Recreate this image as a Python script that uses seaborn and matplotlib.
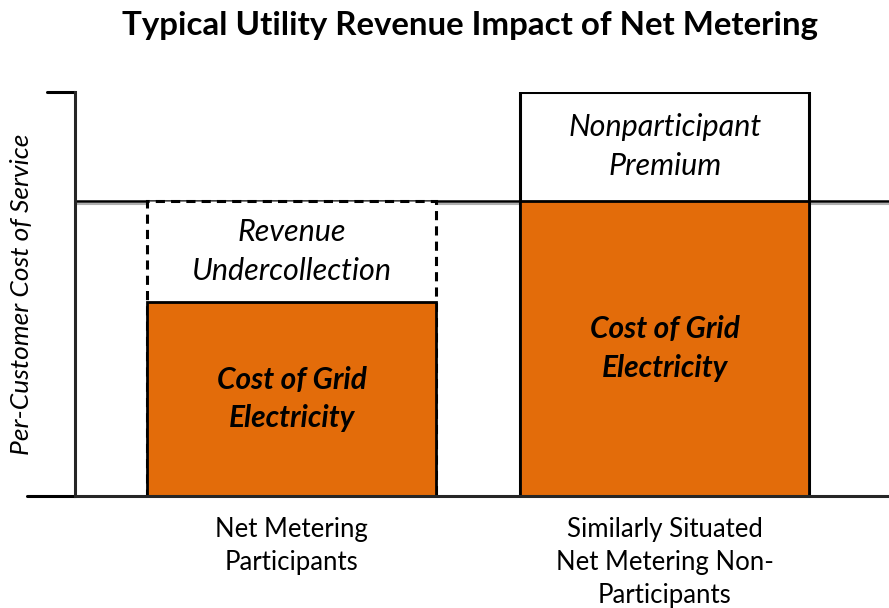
import seaborn as sns
import matplotlib.pyplot as plt
import pandas as pd

# Chart data (relative units, axis runs 0..100)
categories = ["Net Metering\nParticipants", "Similarly Situated\nNet Metering Non-\nParticipants"]
grid_cost = [48, 73]
total_cost = [73, 100]
service_cost = 73
grid_labels = ["Cost of Grid\nElectricity", "Cost of Grid\nElectricity"]
top_labels = ["Revenue\nUndercollection", "Nonparticipant\nPremium"]

orange = "#E36C0A"
sns.set_style("white")
plt.rcParams["font.family"] = ["Lato", "DejaVu Sans"]
plt.rcParams["text.color"] = "black"
plt.rcParams["axes.labelcolor"] = "black"
plt.rcParams["xtick.color"] = "black"

df = pd.DataFrame({"group": categories, "grid": grid_cost, "total": total_cost})

fig = plt.figure(figsize=(8.89, 6.08), dpi=100)
ax = fig.add_axes([75 / 889, 1 - 496 / 608, 1 - 75 / 889, (496 - 92) / 608])

# white upper boxes first, orange grid cost on top
sns.barplot(data=df, x="group", y="total", color="white", edgecolor="black",
            linewidth=2.2, width=0.774, saturation=1, ax=ax)
ax.patches[0].set_linestyle((0, (3, 2)))
sns.barplot(data=df, x="group", y="grid", color=orange, edgecolor="black",
            linewidth=2.0, width=0.774, saturation=1, ax=ax)

# cost-of-service line with a faint shadow
ax.axhline(service_cost - 0.6, color="#b0b0b0", lw=1.5, zorder=0.4)
ax.axhline(service_cost, color="black", lw=1.8, zorder=0.5)

for i in range(len(categories)):
    ax.text(i, grid_cost[i] / 2, grid_labels[i], ha="center", va="center",
            fontsize=21.5, fontweight="bold", style="italic", linespacing=1.45)
    ax.text(i, (grid_cost[i] + total_cost[i]) / 2, top_labels[i], ha="center",
            va="center", fontsize=22, style="italic", linespacing=1.45)

ax.set_xlim(-0.58, 1.60)
ax.set_ylim(0, 100)
ax.set_xlabel("")
ax.set_ylabel("Per-Customer Cost of Service", fontsize=19, style="italic", labelpad=30)
ax.set_yticks([])
ax.tick_params(axis="x", length=0, labelsize=18.5, pad=15)
for lab in ax.get_xticklabels():
    lab.set_linespacing(1.4)
    lab.set_verticalalignment("top")

for side in ["top", "right"]:
    ax.spines[side].set_visible(False)
ax.spines["left"].set_linewidth(2.2)
ax.spines["bottom"].set_linewidth(2.2)
ax.axhline(0, xmin=-48 / 814, xmax=0, color="black", lw=2.2, clip_on=False)
ax.axhline(100, xmin=-28 / 814, xmax=0, color="black", lw=2.2, clip_on=False)

fig.text(470 / 889, 1 - 25 / 608, "Typical Utility Revenue Impact of Net Metering",
         ha="center", va="center", fontsize=23.8, fontweight="bold")

fig.savefig("out.png", dpi=100)
